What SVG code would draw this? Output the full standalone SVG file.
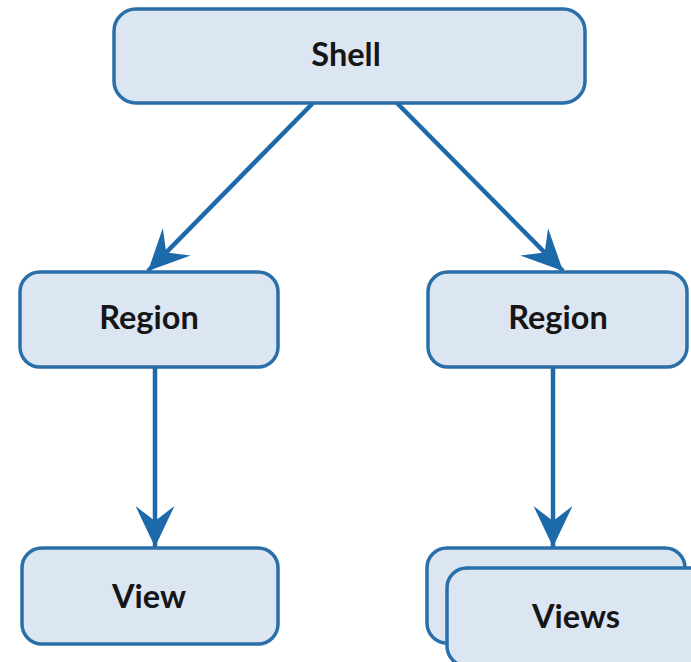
<svg xmlns="http://www.w3.org/2000/svg" width="691" height="662" viewBox="0 0 691 662">
  <style>
    .box { fill: #dce6f3; stroke: #2a6fa8; stroke-width: 3.5; }
    .label { font-family: Lato, "Open Sans", "Liberation Sans", sans-serif; font-weight: bold; font-size: 32.5px; fill: #161616; text-anchor: middle; }
    .link { stroke: #1d6aab; stroke-width: 4.5; fill: none; marker-end: url(#head); }
  </style>
  <defs>
    <marker id="head" markerUnits="userSpaceOnUse" viewBox="-44 -22 46 44" refX="0" refY="0" markerWidth="46" markerHeight="44" orient="auto">
      <path d="M0,0 L-41,-19.5 L-26,0 L-41,19.5 Z" fill="#1d6aab"/>
    </marker>
  </defs>

  <g id="connectors">
    <line class="link" x1="313" y1="103" x2="148" y2="271"/>
    <line class="link" x1="397" y1="103" x2="563" y2="271"/>
    <line class="link" x1="155" y1="367" x2="155" y2="547"/>
    <line class="link" x1="553" y1="367" x2="553" y2="547"/>
  </g>

  <g id="shell">
    <rect class="box" x="114" y="9" width="471" height="94" rx="22"/>
    <text class="label" x="346" y="66">Shell</text>
  </g>

  <g id="region-left">
    <rect class="box" x="20" y="272" width="258" height="95" rx="20"/>
    <text class="label" x="149" y="329">Region</text>
  </g>

  <g id="region-right">
    <rect class="box" x="428" y="272" width="259" height="95" rx="20"/>
    <text class="label" x="558" y="329">Region</text>
  </g>

  <g id="view">
    <rect class="box" x="22" y="548" width="256" height="96" rx="20"/>
    <text class="label" x="149" y="608">View</text>
  </g>

  <g id="views">
    <rect class="box" x="427" y="548" width="258" height="95" rx="20"/>
    <rect class="box" x="447" y="568" width="262" height="98" rx="20"/>
    <text class="label" x="576" y="628">Views</text>
  </g>
</svg>
